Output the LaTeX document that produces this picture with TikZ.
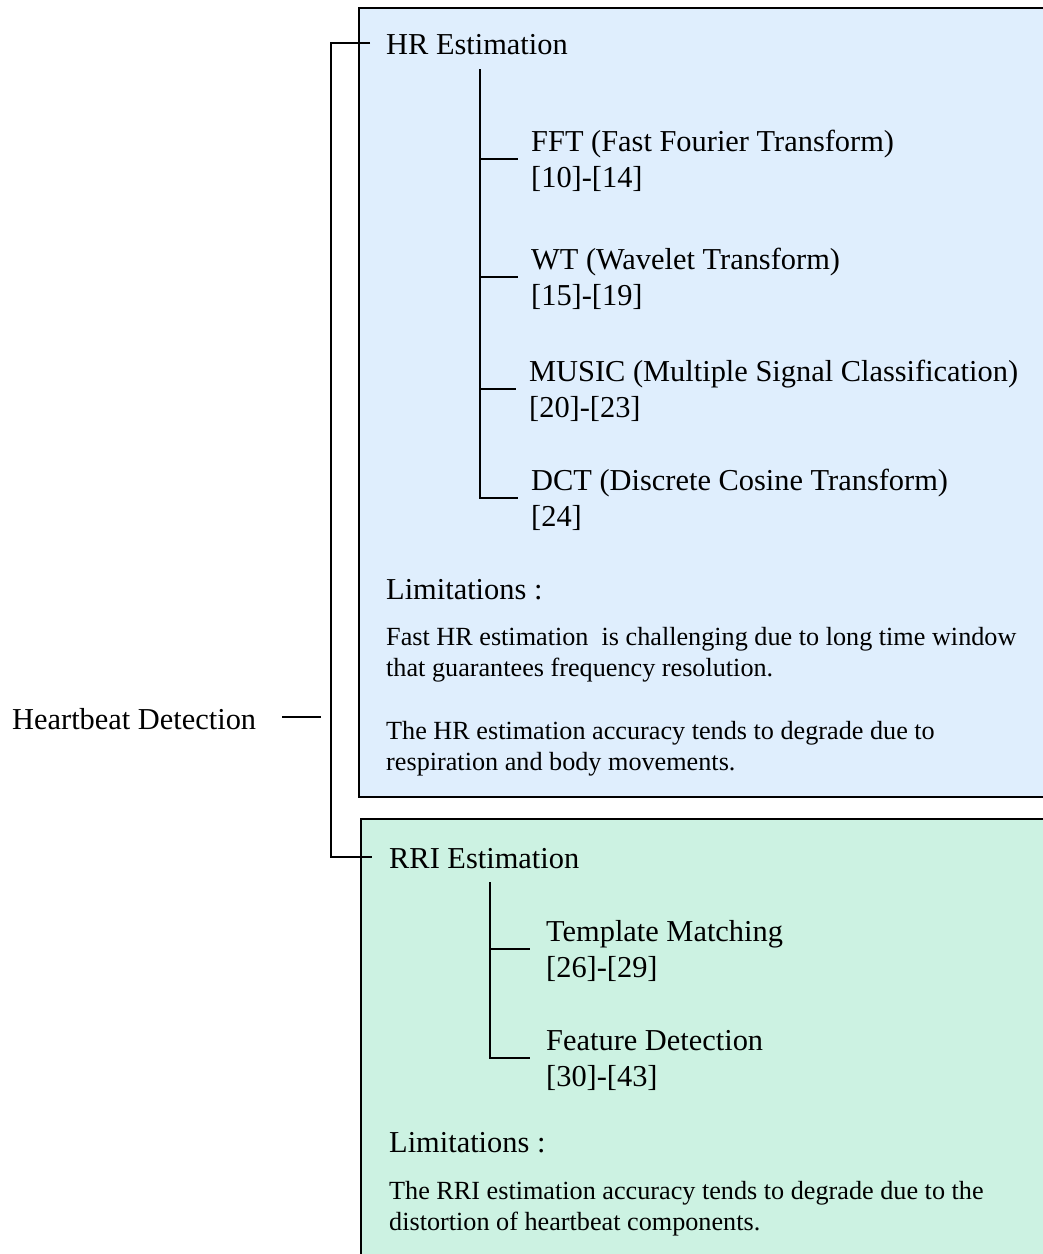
\documentclass[tikz,border=0pt]{standalone}
\usepackage{fontspec}
\setmainfont{Liberation Serif}
\definecolor{hrfill}{RGB}{223,238,253}
\definecolor{rrifill}{RGB}{204,242,226}
\begin{document}
\begin{tikzpicture}[x=1pt,y=-1pt,
  head/.style={inner sep=0pt, anchor=west, align=left, font=\fontsize{30.4}{36}\selectfont},
  body/.style={inner sep=0pt, anchor=west, align=left, font=\fontsize{26.2}{31}\selectfont},
  panel/.style={draw=black, line width=2pt},
  link/.style={draw=black, line width=1.5pt}]
\useasboundingbox (0,0) rectangle (1043,1254);

% background panels
\draw[panel, fill=hrfill] (359,8) rectangle (1070,797);
\draw[panel, fill=rrifill] (361,819) rectangle (1070,1280);

% root
\node[head] (hd) at (12,719) {Heartbeat Detection};

% HR estimation branch
\node[head] (hr) at (386,45) {HR Estimation};
\node[head] (fft) at (531,161) {FFT (Fast Fourier Transform)\\{}[10]-[14]};
\node[head] (wt) at (531,279) {WT (Wavelet Transform)\\{}[15]-[19]};
\node[head] (music) at (529,391) {MUSIC (Multiple Signal Classification)\\{}[20]-[23]};
\node[head] (dct) at (531,500) {DCT (Discrete Cosine Transform)\\{}[24]};
\node[head] (hrlim) at (386,590) {Limitations :};
\node[body] (hrl1) at (386,655) {Fast HR estimation~ is challenging due to long time window\\that guarantees frequency resolution.};
\node[body] (hrl2) at (386,749) {The HR estimation accuracy tends to degrade due to\\respiration and body movements.};

% RRI estimation branch
\node[head] (rri) at (389,859) {RRI Estimation};
\node[head] (tm) at (546,951) {Template Matching\\{}[26]-[29]};
\node[head] (fd) at (546,1060) {Feature Detection\\{}[30]-[43]};
\node[head] (rrilim) at (389,1143) {Limitations :};
\node[body] (rril1) at (389,1209) {The RRI estimation accuracy tends to degrade due to the\\distortion of heartbeat components.};

% root bracket
\draw[link] ([xshift=26pt,yshift=2pt]hd.east) -- ++(39,0);
\draw[link] ([xshift=-16pt,yshift=2pt]hr.west) -- ++(-39,0) |- ([xshift=-17pt,yshift=2pt]rri.west);

% HR sub-tree
\coordinate (hrtrunk) at (480,69);
\draw[link] (hrtrunk) |- ([xshift=-13pt,yshift=2pt]dct.west);
\foreach \n in {fft,wt,music}
  \draw[link] ([yshift=2pt]hrtrunk |- \n.west) -- ([xshift=-13pt,yshift=2pt]\n.west);

% RRI sub-tree
\coordinate (rritrunk) at (490,882);
\draw[link] (rritrunk) |- ([xshift=-16pt,yshift=2pt]fd.west);
\draw[link] ([yshift=2pt]rritrunk |- tm.west) -- ([xshift=-16pt,yshift=2pt]tm.west);
\end{tikzpicture}
\end{document}
